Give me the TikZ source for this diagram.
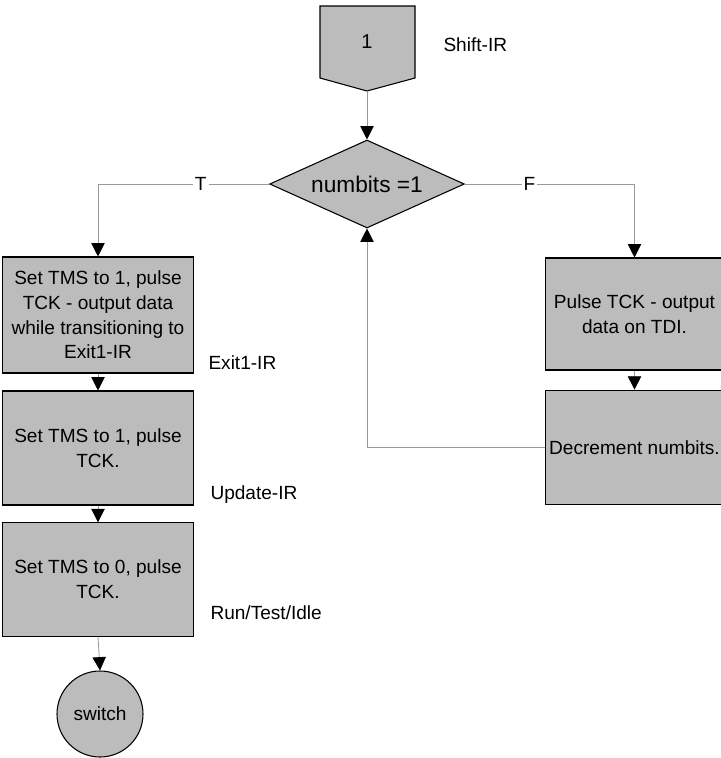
\documentclass[tikz,border=0pt]{standalone}
\usepackage{fontspec}
\setmainfont{Liberation Sans}
\usetikzlibrary{shapes.geometric,arrows.meta}

\definecolor{shade}{RGB}{188,188,188}
\tikzset{every picture/.style={line width=0.75pt}}
\tikzset{
  stepbox/.style={draw=black,fill=shade,line width=0.8pt,align=center,inner sep=1pt,font=\fontsize{14.3}{18.5}\selectfont},
  testbox/.style={diamond,draw=black,fill=shade,line width=0.8pt,inner sep=0pt,aspect=2.2,minimum width=146pt,minimum height=66pt,font=\fontsize{17}{20}\selectfont},
  endbox/.style={circle,draw=black,fill=shade,line width=0.8pt,inner sep=0pt,minimum size=64.5pt,font=\fontsize{14.3}{17}\selectfont},
  statelbl/.style={anchor=west,inner sep=0.75pt,font=\fontsize{14.3}{17}\selectfont},
  link/.style={draw=black!40,line width=0.6pt,-{Triangle[black,width=10pt,length=10pt]}},
  branch/.style={fill=white,inner sep=1.5pt,font=\fontsize{14.3}{17}\selectfont}
}

\begin{document}
\begin{tikzpicture}[x=0.75pt,y=0.75pt,yscale=-1,xscale=1]
\useasboundingbox (0,0) rectangle (721,758);

% Off-page connector
\draw [stepbox] (320,6) -- (415,6) -- (415,78) -- (367,91) -- (320,78) -- cycle ;
\node [font=\fontsize{15}{17}\selectfont] (one) at (367,42) {1};
\coordinate (onetip) at (367,91);
\node [statelbl] (shiftir) at (442,45) {Shift-IR};

% Decision
\node [testbox] (test) at (367,184) {numbits =1};

% True branch
\node [stepbox,minimum width=143pt,minimum height=87pt] (exit) at (98,315) {Set TMS to 1, pulse\\TCK - output data\\while transitioning to\\Exit1-IR};
\node [stepbox,minimum width=143pt,minimum height=85.5pt] (update) at (98,448) {Set TMS to 1, pulse\\TCK.};
\node [stepbox,minimum width=143pt,minimum height=85pt] (idle) at (98,579.5) {Set TMS to 0, pulse\\TCK.};
\node [endbox] (switch) at (100,714) {switch};

\node [statelbl] (exitlbl) at (207,363) {Exit1-IR};
\node [statelbl] (updlbl) at (209,495) {Update-IR};
\node [statelbl] (idlelbl) at (209,613) {Run/Test/Idle};

% False branch
\node [stepbox,minimum width=134pt,minimum height=84pt] (pulse) at (634.5,314) {Pulse TCK - output\\data on TDI.};
\node [stepbox,minimum width=134pt,minimum height=86pt] (decr) at (634.5,447.5) {Decrement numbits.};

% Connectors
\draw [link] (onetip) -- (test.north);
\draw [link] (test.west) -| (exit.north) node [branch,pos=0.2] {T};
\draw [link] (test.east) -| (pulse.north) node [branch,pos=0.19] {F};
\draw [link] (exit.south) -- (update.north);
\draw [link] (update.south) -- (idle.north);
\draw [link] (idle.south) -- (switch.north);
\draw [link] (pulse.south) -- (decr.north);
\draw [link] (decr.west) -| (test.south);

\end{tikzpicture}
\end{document}
